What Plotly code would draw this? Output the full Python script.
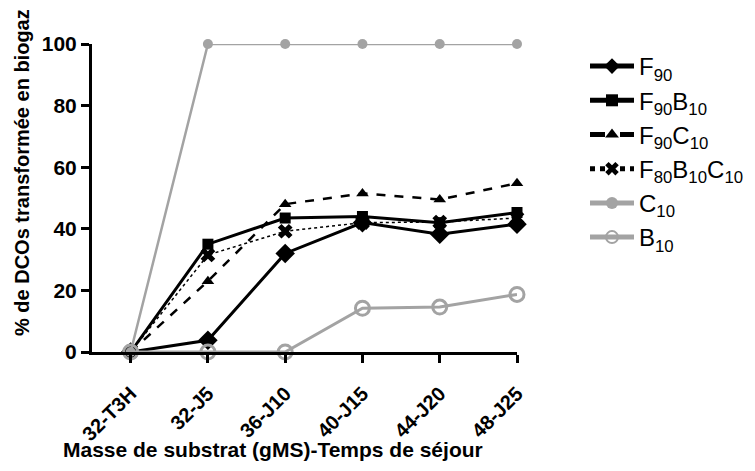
import plotly.graph_objects as go

categories = ["32-T3H", "32-J5", "36-J10", "40-J15", "44-J20", "48-J25"]
f90 = [0, 3.8, 32, 42, 38.2, 41.5]
f90b10 = [0, 35, 43.5, 44, 42, 45.3]
f90c10 = [0, 23, 48, 51.5, 49.5, 54.8]
f80b10c10 = [0, 31.5, 39.2, 42, 42.2, 43.5]
c10 = [0, 100, 100, 100, 100, 100]
b10 = [0, 0, 0, 14.2, 14.6, 18.7]
y_ticks = [0, 20, 40, 60, 80, 100]

FONT = "Arial, Liberation Sans, sans-serif"
GRAY = "#a3a3a3"

series = [
    ("F<sub>90</sub>", f90, dict(color="black", width=3, dash="solid"),
     dict(symbol="diamond", size=15, color="black")),
    ("F<sub>90</sub>B<sub>10</sub>", f90b10, dict(color="black", width=3, dash="solid"),
     dict(symbol="square", size=11, color="black")),
    ("F<sub>90</sub>C<sub>10</sub>", f90c10, dict(color="black", width=2.5, dash="dash"),
     dict(symbol="triangle-up", size=11, color="black")),
    ("F<sub>80</sub>B<sub>10</sub>C<sub>10</sub>", f80b10c10, dict(color="black", width=1.5, dash="dot"),
     dict(symbol="x", size=13, color="black")),
    ("C<sub>10</sub>", c10, dict(color=GRAY, width=2.5, dash="solid"),
     dict(symbol="circle", size=10, color=GRAY)),
    ("B<sub>10</sub>", b10, dict(color=GRAY, width=3, dash="solid"),
     dict(symbol="circle-open", size=14, color=GRAY, line=dict(width=3, color=GRAY))),
]

fig = go.Figure()
for i, (name, vals, line, marker) in enumerate(series):
    fig.add_trace(go.Scatter(
        x=categories, y=vals, name=name, mode="lines+markers",
        line=line, marker=marker, cliponaxis=False, legendgroup=f"g{i}",
    ))

fig.update_layout(
    width=755, height=471,
    margin=dict(l=84, r=246, t=36, b=127),
    plot_bgcolor="white", paper_bgcolor="white",
    font=dict(family=FONT, color="black"),
    legend=dict(x=1.16, y=1.0, xanchor="left", yanchor="top",
                font=dict(size=24, family=FONT, color="black"),
                tracegroupgap=0, itemwidth=44, itemsizing="constant",
                bgcolor="rgba(0,0,0,0)"),
    xaxis=dict(
        type="category", range=[-0.5, 5],
        tickvals=categories, ticktext=[f"<b>{c}</b>" for c in categories],
        showline=True, linecolor="black", linewidth=3,
        ticks="outside", ticklen=8, tickwidth=3, tickcolor="black",
        tickangle=-45, tickfont=dict(size=20, family=FONT, color="black"),
        ticklabelstandoff=11,
        showgrid=False, zeroline=False,
    ),
    yaxis=dict(
        range=[0, 100], tickvals=y_ticks, ticktext=[f"<b>{v}</b>" for v in y_ticks],
        showline=True, linecolor="black", linewidth=3,
        ticks="outside", ticklen=8, tickwidth=3, tickcolor="black",
        tickfont=dict(size=21, family=FONT, color="black"),
        showgrid=False, zeroline=False,
    ),
    annotations=[
        dict(text="<b>Masse de substrat (gMS)-Temps de séjour</b>",
             xref="paper", yref="paper", x=0.426, y=-0.318,
             xanchor="center", yanchor="middle", showarrow=False,
             font=dict(size=21, family=FONT, color="black")),
        dict(text="<b>% de DCOs transformée en biogaz</b>",
             xref="paper", yref="paper", x=-0.165, y=0.584, textangle=-90,
             xanchor="center", yanchor="middle", showarrow=False,
             font=dict(size=20, family=FONT, color="black")),
    ],
)

fig.write_html("out.html")
